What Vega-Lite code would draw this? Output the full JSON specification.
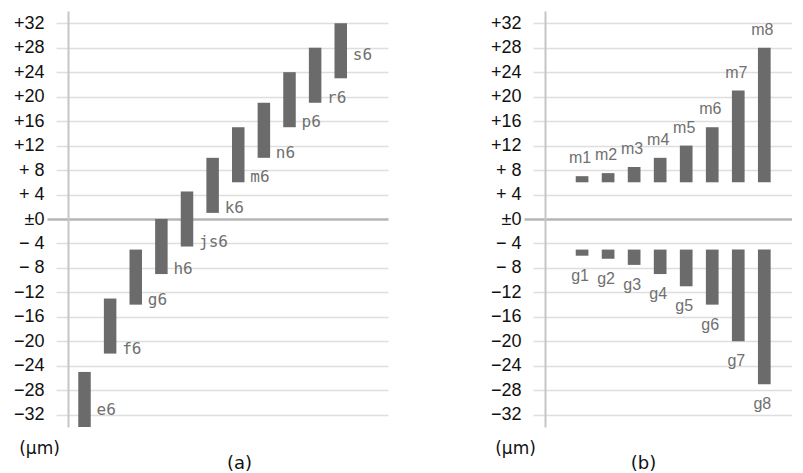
{
  "$schema": "https://vega.github.io/schema/vega-lite/v6.json",
  "background": "white",
  "padding": {"left": 13, "top": 11, "right": 0, "bottom": 0},
  "bounds": "flush",
  "spacing": 157,
  "config": {
    "view": {"stroke": null},
    "axisX": {
      "domain": false,
      "ticks": false,
      "labels": false,
      "grid": false,
      "titleFont": "DejaVu Sans",
      "titleFontSize": 18,
      "titleFontWeight": "normal",
      "titleColor": "#111111",
      "titleAlign": "center",
      "titleBaseline": "middle",
      "titleY": 36
    }
  },
  "datasets": {
    "a": [
      {"name": "e6", "low": -34, "high": -25},
      {"name": "f6", "low": -22, "high": -13},
      {"name": "g6", "low": -14, "high": -5},
      {"name": "h6", "low": -9, "high": 0},
      {"name": "js6", "low": -4.5, "high": 4.5},
      {"name": "k6", "low": 1, "high": 10},
      {"name": "m6", "low": 6, "high": 15},
      {"name": "n6", "low": 10, "high": 19},
      {"name": "p6", "low": 15, "high": 24},
      {"name": "r6", "low": 19, "high": 28},
      {"name": "s6", "low": 23, "high": 32}
    ],
    "b": [
      {"name": "m1", "series": "m", "grade": 1, "low": 6, "high": 7},
      {"name": "m2", "series": "m", "grade": 2, "low": 6, "high": 7.5},
      {"name": "m3", "series": "m", "grade": 3, "low": 6, "high": 8.5},
      {"name": "m4", "series": "m", "grade": 4, "low": 6, "high": 10},
      {"name": "m5", "series": "m", "grade": 5, "low": 6, "high": 12},
      {"name": "m6", "series": "m", "grade": 6, "low": 6, "high": 15},
      {"name": "m7", "series": "m", "grade": 7, "low": 6, "high": 21},
      {"name": "m8", "series": "m", "grade": 8, "low": 6, "high": 28},
      {"name": "g1", "series": "g", "grade": 1, "low": -6, "high": -5},
      {"name": "g2", "series": "g", "grade": 2, "low": -6.5, "high": -5},
      {"name": "g3", "series": "g", "grade": 3, "low": -7.5, "high": -5},
      {"name": "g4", "series": "g", "grade": 4, "low": -9, "high": -5},
      {"name": "g5", "series": "g", "grade": 5, "low": -11, "high": -5},
      {"name": "g6", "series": "g", "grade": 6, "low": -14, "high": -5},
      {"name": "g7", "series": "g", "grade": 7, "low": -20, "high": -5},
      {"name": "g8", "series": "g", "grade": 8, "low": -27, "high": -5}
    ]
  },
  "hconcat": [
    {
      "width": 320,
      "height": 416,
      "data": {"name": "a"},
      "encoding": {
        "x": {
          "field": "name",
          "type": "nominal",
          "sort": null,
          "scale": {"paddingInner": 0.512, "paddingOuter": 1.256, "align": 0.2},
          "axis": {"title": "(a)", "titleX": 171}
        },
        "y": {
          "field": "low",
          "type": "quantitative",
          "scale": {"domain": [-34, 34], "nice": false, "zero": false},
          "axis": {
            "values": [-32, -28, -24, -20, -16, -12, -8, -4, 0, 4, 8, 12, 16, 20, 24, 28, 32],
            "labelExpr": "datum.value === 0 ? '±0' : (datum.value > 0 ? '+' : '−') + (abs(datum.value) < 10 ? ' ' : '') + abs(datum.value)",
            "labelFont": "Liberation Sans",
            "labelFontSize": 18,
            "labelColor": "#111111",
            "labelAlign": "right",
            "labelBaseline": "middle",
            "domain": true,
            "domainColor": "#c6c6c6",
            "domainWidth": 2,
            "grid": true,
            "ticks": true,
            "gridColor": {"condition": {"test": "datum.value === 0", "value": "#b5b5b5"}, "value": "#dedede"},
            "gridWidth": {"condition": {"test": "datum.value === 0", "value": 2.5}, "value": 1.5},
            "tickColor": {"condition": {"test": "datum.value === 0", "value": "#b5b5b5"}, "value": "#dedede"},
            "tickWidth": {"condition": {"test": "datum.value === 0", "value": 2.5}, "value": 1.5},
            "tickSize": {"condition": {"test": "datum.value === 0", "value": 21}, "value": 12},
            "labelPadding": {"condition": {"test": "datum.value === 0", "value": 3}, "value": 12},
            "title": "(μm)",
            "titleAngle": 0,
            "titleAlign": "center",
            "titleBaseline": "middle",
            "titleX": -29,
            "titleY": 437,
            "titleFont": "DejaVu Sans",
            "titleFontSize": 17,
            "titleFontWeight": "normal",
            "titleColor": "#111111"
          }
        }
      },
      "layer": [
        {
          "mark": {"type": "bar", "color": "#6b6b6b"},
          "encoding": {"y2": {"field": "high"}}
        },
        {
          "transform": [{"filter": "datum.name !== 'e6' && datum.name !== 's6'"}],
          "mark": {"type": "text", "align": "left", "baseline": "alphabetic", "dx": 12, "dy": 0, "font": "DejaVu Sans Mono", "fontSize": 16, "color": "#707070"},
          "encoding": {"text": {"field": "name"}}
        },
        {
          "transform": [{"filter": "datum.name === 'e6'"}],
          "mark": {"type": "text", "align": "left", "baseline": "alphabetic", "dx": 12, "dy": -12, "font": "DejaVu Sans Mono", "fontSize": 16, "color": "#707070"},
          "encoding": {"text": {"field": "name"}}
        },
        {
          "transform": [{"filter": "datum.name === 's6'"}],
          "mark": {"type": "text", "align": "left", "baseline": "alphabetic", "dx": 12, "dy": -18, "font": "DejaVu Sans Mono", "fontSize": 16, "color": "#707070"},
          "encoding": {"text": {"field": "name"}}
        }
      ]
    },
    {
      "width": 247,
      "height": 416,
      "data": {"name": "b"},
      "encoding": {
        "x": {
          "field": "grade",
          "type": "ordinal",
          "sort": null,
          "scale": {"paddingInner": 0.512, "paddingOuter": 1.276, "align": 0.59},
          "axis": {"title": "(b)", "titleX": 98}
        },
        "y": {
          "field": "low",
          "type": "quantitative",
          "scale": {"domain": [-34, 34], "nice": false, "zero": false},
          "axis": {
            "values": [-32, -28, -24, -20, -16, -12, -8, -4, 0, 4, 8, 12, 16, 20, 24, 28, 32],
            "labelExpr": "datum.value === 0 ? '±0' : (datum.value > 0 ? '+' : '−') + (abs(datum.value) < 10 ? ' ' : '') + abs(datum.value)",
            "labelFont": "Liberation Sans",
            "labelFontSize": 18,
            "labelColor": "#111111",
            "labelAlign": "right",
            "labelBaseline": "middle",
            "domain": true,
            "domainColor": "#c6c6c6",
            "domainWidth": 2,
            "grid": true,
            "ticks": true,
            "gridColor": {"condition": {"test": "datum.value === 0", "value": "#b5b5b5"}, "value": "#dedede"},
            "gridWidth": {"condition": {"test": "datum.value === 0", "value": 2.5}, "value": 1.5},
            "tickColor": {"condition": {"test": "datum.value === 0", "value": "#b5b5b5"}, "value": "#dedede"},
            "tickWidth": {"condition": {"test": "datum.value === 0", "value": 2.5}, "value": 1.5},
            "tickSize": {"condition": {"test": "datum.value === 0", "value": 21}, "value": 12},
            "labelPadding": {"condition": {"test": "datum.value === 0", "value": 3}, "value": 12},
            "title": "(μm)",
            "titleAngle": 0,
            "titleAlign": "center",
            "titleBaseline": "middle",
            "titleX": -30,
            "titleY": 437,
            "titleFont": "DejaVu Sans",
            "titleFontSize": 17,
            "titleFontWeight": "normal",
            "titleColor": "#111111"
          }
        }
      },
      "layer": [
        {
          "mark": {"type": "bar", "color": "#6b6b6b"},
          "encoding": {"y2": {"field": "high"}}
        },
        {
          "transform": [{"filter": "datum.series === 'm'"}],
          "mark": {"type": "text", "align": "center", "baseline": "alphabetic", "dx": -2, "dy": -13, "font": "Liberation Sans", "fontSize": 16, "color": "#707070"},
          "encoding": {"y": {"field": "high", "type": "quantitative"}, "text": {"field": "name"}}
        },
        {
          "transform": [{"filter": "datum.series === 'g'"}],
          "mark": {"type": "text", "align": "center", "baseline": "alphabetic", "dx": -2, "dy": 25, "font": "Liberation Sans", "fontSize": 16, "color": "#707070"},
          "encoding": {"text": {"field": "name"}}
        }
      ]
    }
  ]
}
